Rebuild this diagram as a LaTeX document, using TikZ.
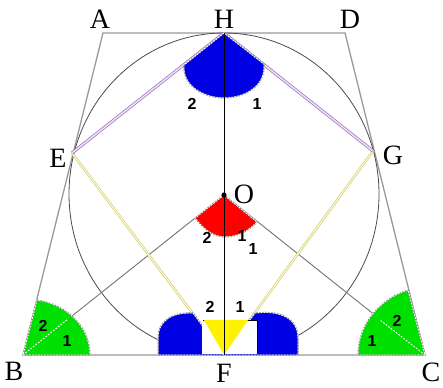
\documentclass[tikz,border=0pt]{standalone}
\usepackage{fontspec}
\newfontfamily\lblfont{Liberation Serif}
\newfontfamily\numfont{Liberation Sans}
\definecolor{khaki}{RGB}{200,196,110}
\definecolor{lavender}{RGB}{150,110,200}
\begin{document}
\begin{tikzpicture}[x=1pt,y=-1pt,
  lbl/.style={font=\lblfont\fontsize{28}{28}\selectfont, inner sep=0pt},
  num/.style={font=\numfont\bfseries\fontsize{16}{16}\selectfont, inner sep=0pt},
  side/.style={draw=black!40, line width=1.3pt},
  circ/.style={draw=black!70, line width=0.8pt},
  ray/.style={draw=black!55, line width=0.9pt},
  purp/.style={draw=lavender, line width=0.7pt, double=violet!12, double distance=1.6pt},
  yell/.style={draw=khaki, line width=0.6pt, double=yellow!20, double distance=1.2pt},
  sectout/.style={draw=black!45, line width=1pt,
    postaction={draw=white, line width=0.9pt, dash pattern=on 1.6pt off 1.4pt}},
  divd/.style={draw=white, line width=0.9pt, dash pattern=on 1.8pt off 1.4pt}]
\useasboundingbox (0,0) rectangle (443,387);
\coordinate (A) at (103,33);
\coordinate (D) at (345,33);
\coordinate (B) at (23,355);
\coordinate (C) at (425,355);
\coordinate (H) at (224,33);
\coordinate (F) at (224,355);
\coordinate (O) at (224,195);
\coordinate (E) at (72,153);
\coordinate (G) at (373,151);
% trapezoid and circle
\draw[side] (A) -- (D) -- (C) -- (B) -- cycle;
\draw[circ] (224,194) ellipse [x radius=155pt, y radius=161pt];
% lines
\draw[ray] (B) -- (O);
\draw[ray] (C) -- (O);
\draw[yell] (E) -- (F);
\draw[yell] (G) -- (F);
\draw[purp] (H) -- (E);
\draw[purp] (H) -- (G);
% sectors
\fill[blue!90!black] (H) -- (184,65) .. controls (182,86) and (204,98) .. (224,98)
  .. controls (245,98) and (266,86) .. (264,64) -- cycle;
\draw[sectout] (H) -- (184,65) .. controls (182,86) and (204,98) .. (224,98)
  .. controls (245,98) and (266,86) .. (264,64) -- cycle;
\fill[red] (O) -- (195,218) .. controls (204,230) and (214,237) .. (225,237)
  .. controls (238,237) and (250,230) .. (257,222) -- cycle;
\draw[sectout] (O) -- (195,218) .. controls (204,230) and (214,237) .. (225,237)
  .. controls (238,237) and (250,230) .. (257,222) -- cycle;
\fill[green!85!black!80!green] (B) -- (90,355) .. controls (90,325) and (65,304) .. (37,300) -- cycle;
\draw[sectout] (B) -- (90,355) .. controls (90,325) and (65,304) .. (37,300) -- cycle;
\fill[green!85!black!80!green] (C) -- (358,355) .. controls (358,322) and (382,298) .. (408,290) -- cycle;
\draw[sectout] (C) -- (358,355) .. controls (358,322) and (382,298) .. (408,290) -- cycle;
\fill[blue!90!black] (F) -- (158,355) -- (158,338) .. controls (158,320) and (173,312) .. (193,313) -- cycle;
\draw[sectout] (F) -- (158,355) -- (158,338) .. controls (158,320) and (173,312) .. (193,313) -- cycle;
\fill[blue!90!black] (F) -- (298,355) -- (298,338) .. controls (298,318) and (280,310) .. (255,313) -- cycle;
\draw[sectout] (F) -- (298,355) -- (298,338) .. controls (298,318) and (280,310) .. (255,313) -- cycle;
% white box and yellow triangle at F
\fill[white] (202,320) rectangle (257,354);
\draw[black, line width=0.7pt] (203,320) -- (257,320) -- (257,353);
\fill[yellow] (204,320) -- (248,320) -- (F) -- cycle;
% dividers in the green sectors
\draw[divd] (B) -- (68,319);
\draw[divd] (C) -- (380,320);
% vertical line
\draw[black, line width=0.9pt] (H) -- (F);
\fill[black] (O) circle [radius=2.6pt];
% point labels
\node[lbl] (lA) at (100,19) {A};
\node[lbl] (lH) at (224,19) {H};
\node[lbl] (lD) at (350,19) {D};
\node[lbl] (lE) at (58,158) {E};
\node[lbl] (lG) at (393,155) {G};
\node[lbl] (lO) at (244,194) {O};
\node[lbl] (lB) at (14,371) {B};
\node[lbl] (lC) at (431,372) {C};
\node[lbl] (lF) at (224,373) {F};
% angle numbers
\node[num] (h2) at (192,104) {2};
\node[num] (h1) at (257,104) {1};
\node[num] (o2) at (207,238) {2};
\node[num] (o1a) at (242,236) {1};
\node[num] (o1b) at (253,249) {1};
\node[num] (f2) at (210,307) {2};
\node[num] (f1) at (240,307) {1};
\node[num] (b2) at (43,326) {2};
\node[num] (b1) at (67,341) {1};
\node[num] (c1) at (372,341) {1};
\node[num] (c2) at (397,321) {2};
\end{tikzpicture}
\end{document}
